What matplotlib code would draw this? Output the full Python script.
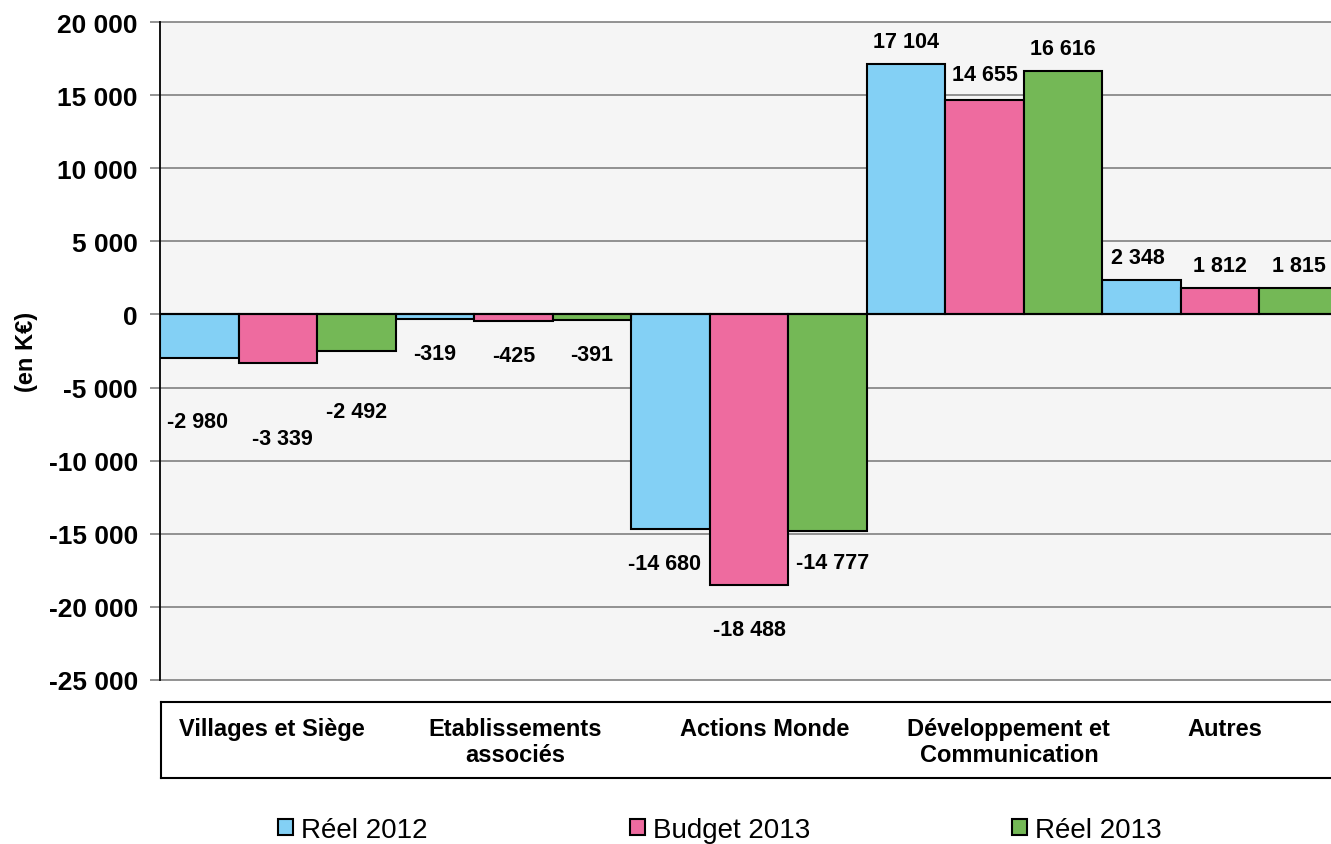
import numpy as np
import matplotlib.pyplot as plt
from matplotlib.patches import Patch
from matplotlib.ticker import FuncFormatter

plt.rcParams['font.family'] = ['Liberation Sans', 'DejaVu Sans']

# data (en K€)
categories = ["Villages et Siège", "Etablissements\nassociés", "Actions Monde",
              "Développement et\nCommunication", "Autres"]
series_names = ["Réel 2012", "Budget 2013", "Réel 2013"]
reel_2012 = [-2980, -319, -14680, 17104, 2348]
budget_2013 = [-3339, -425, -18488, 14655, 1812]
reel_2013 = [-2492, -391, -14777, 16616, 1815]
y_ticks = np.arange(-25000, 20001, 5000)

series = [reel_2012, budget_2013, reel_2013]
colors = ["#83D0F5", "#EE6B9F", "#74B856"]

# small label nudges (pixels) to follow the original placement
label_dy = [[-29, 0, 0, 0, 0],
            [-41, 0, -10, 3, 0],
            [-26, 0, 3, 0, 0]]
label_dx = [[-2, 0, -6, 0, -4],
            [5, 0, 0, 0, 0],
            [0, 0, 5, 0, 0]]
cat_dx = [-7, 1, 15, 24, 5]

W, H = 1331, 845


def px_box(left, top, right, bottom):
    """Convert a pixel box (from top-left) to figure coordinates."""
    return [left / W, 1 - bottom / H, (right - left) / W, (bottom - top) / H]


def fmt(v):
    return f"{int(v):,}".replace(",", " ")


fig = plt.figure(figsize=(W / 100, H / 100), dpi=100)
ax = fig.add_axes(px_box(160, 23, 1338, 681))
ax.set_facecolor("#F5F5F5")

width = 1 / 3
x = np.arange(len(categories))
for j, (vals, col) in enumerate(zip(series, colors)):
    ax.bar(x + (j - 1) * width, vals, width=width, color=col,
           edgecolor="black", linewidth=1.5, zorder=2)

ax.set_xlim(-0.5, len(categories) - 0.5)
ax.set_ylim(-25000, 20000)
ax.set_yticks(y_ticks)
ax.yaxis.set_major_formatter(FuncFormatter(lambda v, p: fmt(v)))
ax.set_xticks([])
ax.grid(axis="y", color="#808080", linewidth=1.2)
ax.set_axisbelow(True)
for gl in ax.get_ygridlines():
    gl.set_clip_on(False)
ax.axhline(0, color="black", linewidth=1.5, zorder=3)

for s in ["top", "right", "bottom"]:
    ax.spines[s].set_visible(False)
ax.spines["left"].set_color("black")
ax.spines["left"].set_linewidth(1.3)
ax.tick_params(axis="y", length=7, width=1.2, color="#808080", pad=9,
               labelsize=19)
for lbl in ax.get_yticklabels():
    lbl.set_fontweight("bold")

# value labels
for j, vals in enumerate(series):
    for i, v in enumerate(vals):
        xpos = i + (j - 1) * width
        if v >= 0:
            ax.annotate(fmt(v), (xpos, v), xytext=(label_dx[j][i], 17 + label_dy[j][i]),
                        textcoords="offset pixels", ha="center", va="baseline",
                        fontsize=15.5, fontweight="bold", zorder=4)
        else:
            ax.annotate(fmt(v), (xpos, v), xytext=(label_dx[j][i], -24 + label_dy[j][i]),
                        textcoords="offset pixels", ha="center", va="top",
                        fontsize=15.5, fontweight="bold", zorder=4)

# category box
bax = fig.add_axes(px_box(161, 703, 1338, 779))
bax.set_xlim(-0.5, len(categories) - 0.5)
bax.set_ylim(0, 1)
bax.set_xticks([])
bax.set_yticks([])
for s in bax.spines.values():
    s.set_color("black")
    s.set_linewidth(1.5)
for i, cat in enumerate(categories):
    bax.annotate(cat, (i, 0.80), xytext=(cat_dx[i], 0), textcoords="offset pixels",
                 ha="center", va="top", fontsize=17, fontweight="bold",
                 linespacing=1.15)

fig.text(26 / W, 1 - 352 / H, "(en K€)", rotation=90, ha="center", va="center",
         fontsize=17, fontweight="bold")

handles = [Patch(facecolor=c, edgecolor="black", linewidth=1.5) for c in colors]
fig.legend(handles, series_names, loc="center", bbox_to_anchor=(720 / W, 1 - 831 / H),
           ncol=3, frameon=False, fontsize=20, handlelength=0.54, handleheight=0.54,
           handletextpad=0.29, columnspacing=7.27, borderpad=0)

fig.savefig("out.png", dpi=100)
